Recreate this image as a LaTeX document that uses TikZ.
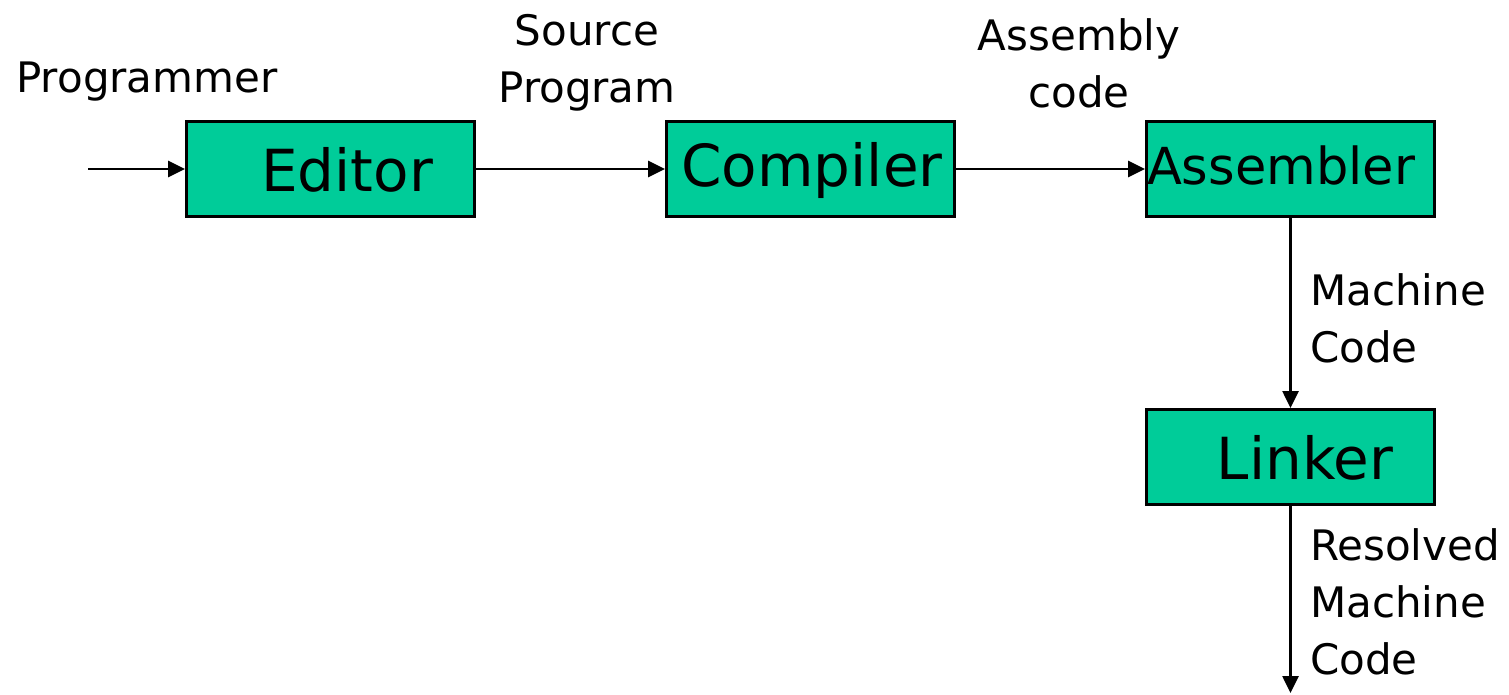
\documentclass[tikz,border=0pt]{standalone}
\usepackage{fontspec}
\setmainfont{DejaVu Sans}
\usetikzlibrary{arrows.meta}
\definecolor{boxgreen}{HTML}{00CC99}
\tikzset{
  stage/.style={draw=black, line width=3pt, fill=boxgreen, minimum width=288pt, minimum height=95pt, inner sep=0pt, anchor=north west},
  stagetext/.style={font=\fontsize{58}{64}\selectfont},
  flow/.style={line width=2.7pt, -{Triangle[length=17pt,width=16pt]}},
  lbl/.style={font=\fontsize{42}{57}\selectfont, inner sep=0pt, align=center},
  lblleft/.style={font=\fontsize{42}{57}\selectfont, inner sep=0pt, align=left, anchor=north west}
}
\begin{document}
\begin{tikzpicture}[x=1pt, y=-1pt]
  \useasboundingbox (0,0) rectangle (1509,695);
  % processing stages
  \node[stage] (editor) at (185,120) {};
  \node[stage] (compiler) at (665,120) {};
  \node[stage] (assembler) at (1145,120) {};
  \node[stage] (linker) at (1145,408) {};
  \node[stagetext] (editorT) at (347,170) {Editor};
  \node[stagetext] (compilerT) at (812,170) {Compiler};
  \node[stagetext, font=\fontsize{51}{60}\selectfont] (assemblerT) at (1281,165) {Assembler};
  \node[stagetext] (linkerT) at (1305,458) {Linker};
  % connectors
  \coordinate (start) at (88,0);
  \coordinate (finish) at (0,693);
  \draw[flow] (start |- editor.west) -- (editor.west);
  \draw[flow] (editor.east) -- (compiler.west);
  \draw[flow] (compiler.east) -- (assembler.west);
  \draw[flow] (assembler.south) -- (linker.north);
  \draw[flow] (linker.south) -- (linker.south |- finish);
  % data labels
  \node[lbl] (prog) at (147,82) {Programmer};
  \node[lbl] (src) at (587,63) {Source\\Program};
  \node[lbl] (asm) at (1079,63) {Assembly\\code};
  \node[lblleft] (mc) at (1310,273) {Machine\\Code};
  \node[lblleft] (rmc) at (1310,528) {Resolved\\Machine\\Code};
\end{tikzpicture}
\end{document}
